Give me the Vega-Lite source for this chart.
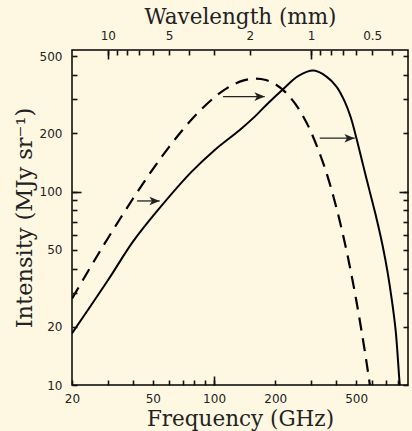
{
  "$schema": "https://vega.github.io/schema/vega-lite/v6.json",
  "width": 336,
  "height": 335,
  "autosize": "none",
  "padding": {"left": 72, "top": 50, "right": 4, "bottom": 46},
  "background": "#fef8e2",
  "config": {
    "view": {"stroke": "black", "strokeWidth": 1.5},
    "axis": {
      "domain": false,
      "grid": false,
      "ticks": true,
      "tickOpacity": 1,
      "zindex": 1,
      "offset": 0,
      "labelFont": "DejaVu Sans",
      "labelFontSize": 12,
      "labelColor": "#222",
      "labelFlush": false,
      "labelBound": false,
      "labelOverlap": false,
      "titleFont": "DejaVu Serif",
      "titleFontSize": 21.5,
      "titleFontWeight": "normal",
      "titleColor": "#222"
    }
  },
  "datasets": {
    "curves": [
      {"curve": "blackbody", "nu": 20, "I": 27.97},
      {"curve": "blackbody", "nu": 25, "I": 41.70},
      {"curve": "blackbody", "nu": 30, "I": 57.25},
      {"curve": "blackbody", "nu": 40, "I": 92.39},
      {"curve": "blackbody", "nu": 50, "I": 130.67},
      {"curve": "blackbody", "nu": 60, "I": 169.91},
      {"curve": "blackbody", "nu": 70, "I": 208.33},
      {"curve": "blackbody", "nu": 80, "I": 244.50},
      {"curve": "blackbody", "nu": 100, "I": 306.34},
      {"curve": "blackbody", "nu": 120, "I": 350.66},
      {"curve": "blackbody", "nu": 140, "I": 376.18},
      {"curve": "blackbody", "nu": 160, "I": 384.26},
      {"curve": "blackbody", "nu": 180, "I": 377.60},
      {"curve": "blackbody", "nu": 200, "I": 359.53},
      {"curve": "blackbody", "nu": 225, "I": 326.07},
      {"curve": "blackbody", "nu": 250, "I": 286.03},
      {"curve": "blackbody", "nu": 275, "I": 244.05},
      {"curve": "blackbody", "nu": 300, "I": 203.44},
      {"curve": "blackbody", "nu": 350, "I": 133.53},
      {"curve": "blackbody", "nu": 400, "I": 82.54},
      {"curve": "blackbody", "nu": 450, "I": 48.71},
      {"curve": "blackbody", "nu": 500, "I": 27.69},
      {"curve": "blackbody", "nu": 550, "I": 15.28},
      {"curve": "blackbody", "nu": 575, "I": 11.24},
      {"curve": "blackbody", "nu": 600, "I": 8.22},
      {"curve": "distorted", "nu": 20, "I": 18.5},
      {"curve": "distorted", "nu": 30.1, "I": 34.9},
      {"curve": "distorted", "nu": 39.9, "I": 55.1},
      {"curve": "distorted", "nu": 53.0, "I": 80.4},
      {"curve": "distorted", "nu": 77.4, "I": 126.5},
      {"curve": "distorted", "nu": 100.8, "I": 164.3},
      {"curve": "distorted", "nu": 133.8, "I": 208.5},
      {"curve": "distorted", "nu": 158.6, "I": 244.3},
      {"curve": "distorted", "nu": 184.4, "I": 286.7},
      {"curve": "distorted", "nu": 218.5, "I": 338.6},
      {"curve": "distorted", "nu": 259.0, "I": 396},
      {"curve": "distorted", "nu": 309.4, "I": 422.7},
      {"curve": "distorted", "nu": 357.3, "I": 393.5},
      {"curve": "distorted", "nu": 400.2, "I": 349.3},
      {"curve": "distorted", "nu": 439.6, "I": 292.2},
      {"curve": "distorted", "nu": 470.4, "I": 242.6},
      {"curve": "distorted", "nu": 501.8, "I": 188.9},
      {"curve": "distorted", "nu": 540.8, "I": 137.5},
      {"curve": "distorted", "nu": 583.6, "I": 100},
      {"curve": "distorted", "nu": 629.6, "I": 72.9},
      {"curve": "distorted", "nu": 674.0, "I": 53.0},
      {"curve": "distorted", "nu": 713.4, "I": 38.6},
      {"curve": "distorted", "nu": 751.4, "I": 27.0},
      {"curve": "distorted", "nu": 783.6, "I": 18.9},
      {"curve": "distorted", "nu": 820, "I": 10},
      {"curve": "distorted", "nu": 826, "I": 9.4}
    ],
    "arrows": [
      {"nu0": 41.8, "nu1": 54.0, "I": 89.5},
      {"nu0": 110.7, "nu1": 177.5, "I": 310},
      {"nu0": 331, "nu1": 492, "I": 188.9}
    ]
  },
  "layer": [
    {
      "data": {"name": "curves"},
      "transform": [{"filter": "datum.curve == 'distorted'"}],
      "mark": {"type": "line", "interpolate": "catmull-rom", "clip": true, "color": "black", "strokeWidth": 2},
      "encoding": {
        "x": {
          "field": "nu", "type": "quantitative",
          "scale": {"type": "log", "domain": [20, 900], "nice": false},
          "axis": {
            "orient": "bottom",
            "ticks": true, "tickOpacity": 1, "zindex": 1, "offset": 0,
            "title": "Frequency (GHz)",
            "values": [20, 30, 40, 50, 60, 70, 80, 90, 100, 200, 300, 400, 500, 600, 700, 800],
            "labelExpr": "indexof([20,50,100,200,500], datum.value) >= 0 ? format(datum.value, 'd') : ''",
            "tickSize": -5, "tickColor": "#111111", "tickWidth": 1.6,
            "labelPadding": 13,
            "titlePadding": 4
          }
        },
        "y": {
          "field": "I", "type": "quantitative",
          "scale": {"type": "log", "domain": [10, 540], "nice": false},
          "axis": {
            "orient": "left",
            "ticks": true, "tickOpacity": 1, "zindex": 1, "offset": 0,
            "title": "Intensity (MJy sr⁻¹)",
            "titleFontSize": 22.5,
            "values": [10, 20, 30, 40, 50, 60, 70, 80, 90, 100, 200, 300, 400, 500],
            "labelExpr": "indexof([10,20,50,100,200,500], datum.value) >= 0 ? format(datum.value, 'd') : ''",
            "tickSize": -5, "tickColor": "#111111", "tickWidth": 1.6,
            "labelPadding": 15,
            "titlePadding": 3
          }
        }
      }
    },
    {
      "data": {"name": "curves"},
      "transform": [{"filter": "datum.curve == 'blackbody'"}],
      "mark": {"type": "line", "interpolate": "catmull-rom", "clip": true, "color": "black", "strokeWidth": 2.2, "strokeDash": [13, 8]},
      "encoding": {
        "x": {
          "field": "nu", "type": "quantitative",
          "scale": {"type": "log", "domain": [20, 900], "nice": false},
          "axis": {
            "orient": "top",
            "ticks": true, "tickOpacity": 1, "zindex": 1, "offset": 0,
            "title": "Wavelength (mm)",
            "values": [30, 33.333, 37.5, 42.857, 50, 60, 75, 100, 150, 300, 333.333, 375, 428.571, 500, 600, 750],
            "labelExpr": "datum.value == 30 ? '10' : datum.value == 60 ? '5' : datum.value == 150 ? '2' : datum.value == 300 ? '1' : datum.value == 600 ? '0.5' : ''",
            "tickSize": -5, "tickColor": "#111111", "tickWidth": 1.6,
            "labelPadding": 13,
            "titlePadding": 1
          }
        },
        "y": {
          "field": "I", "type": "quantitative",
          "scale": {"type": "log", "domain": [10, 540], "nice": false},
          "axis": {
            "orient": "right",
            "ticks": true, "tickOpacity": 1, "zindex": 1, "offset": 0,
            "title": null,
            "labels": false,
            "values": [10, 20, 30, 40, 50, 60, 70, 80, 90, 100, 200, 300, 400, 500],
            "tickSize": -5, "tickColor": "#111111", "tickWidth": 1.6
          }
        }
      }
    },
    {
      "data": {"name": "arrows"},
      "mark": {"type": "rule", "color": "#222", "strokeWidth": 1.3},
      "encoding": {
        "x": {
          "field": "nu0", "type": "quantitative",
          "scale": {"type": "log", "domain": [20, 900], "nice": false},
          "axis": {"orient": "bottom", "ticks": true, "tickOpacity": 1, "zindex": 1, "offset": 0, "title": null, "labels": false, "values": [100], "tickSize": -9, "tickColor": "#111111", "tickWidth": 1.6}
        },
        "x2": {"field": "nu1"},
        "y": {
          "field": "I", "type": "quantitative",
          "scale": {"type": "log", "domain": [10, 540], "nice": false},
          "axis": {"orient": "left", "ticks": true, "tickOpacity": 1, "zindex": 1, "offset": 0, "title": null, "labels": false, "values": [100], "tickSize": -9, "tickColor": "#111111", "tickWidth": 1.6}
        }
      }
    },
    {
      "data": {"name": "arrows"},
      "mark": {"type": "point", "shape": "M0,0 L-1,-0.42 L-0.75,0 L-1,0.42 Z", "filled": true, "color": "#222", "opacity": 1, "size": 420},
      "encoding": {
        "x": {
          "field": "nu1", "type": "quantitative",
          "scale": {"type": "log", "domain": [20, 900], "nice": false},
          "axis": {"orient": "top", "ticks": true, "tickOpacity": 1, "zindex": 1, "offset": 0, "title": null, "labels": false, "values": [30, 300], "tickSize": -9, "tickColor": "#111111", "tickWidth": 1.6}
        },
        "y": {
          "field": "I", "type": "quantitative",
          "scale": {"type": "log", "domain": [10, 540], "nice": false},
          "axis": {"orient": "right", "ticks": true, "tickOpacity": 1, "zindex": 1, "offset": 0, "title": null, "labels": false, "values": [100], "tickSize": -9, "tickColor": "#111111", "tickWidth": 1.6}
        }
      }
    }
  ],
  "resolve": {"scale": {"x": "independent", "y": "independent"}}
}
